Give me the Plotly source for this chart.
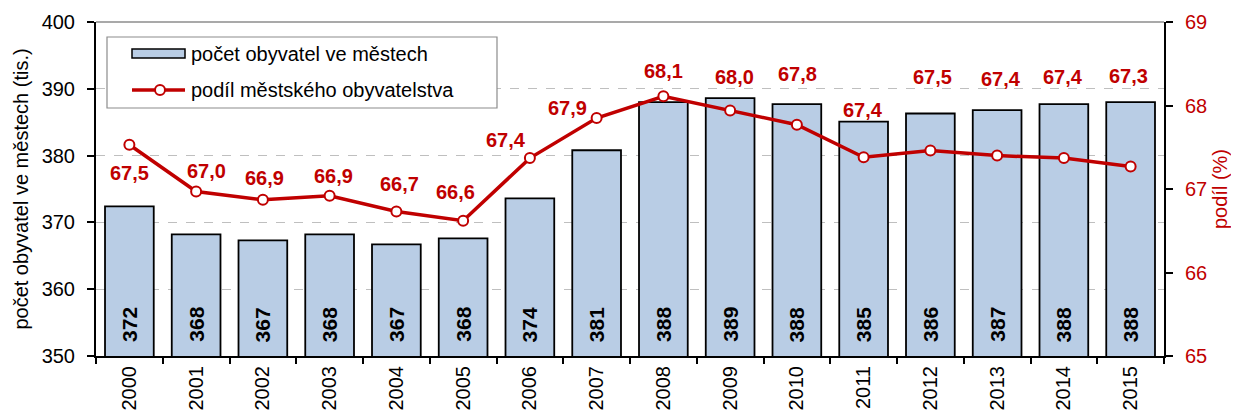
import plotly.graph_objects as go

years = ["2000", "2001", "2002", "2003", "2004", "2005", "2006", "2007",
         "2008", "2009", "2010", "2011", "2012", "2013", "2014", "2015"]
population = [372.4, 368.2, 367.3, 368.2, 366.7, 367.6, 373.6, 380.8,
              388.0, 388.6, 387.7, 385.1, 386.3, 386.8, 387.7, 388.0]
pop_labels = ["372", "368", "367", "368", "367", "368", "374", "381",
              "388", "389", "388", "385", "386", "387", "388", "388"]
share = [67.53, 66.97, 66.87, 66.92, 66.73, 66.62, 67.37, 67.85,
         68.11, 67.94, 67.77, 67.38, 67.46, 67.40, 67.37, 67.27]
share_labels = ["67,5", "67,0", "66,9", "66,9", "66,7", "66,6", "67,4", "67,9",
                "68,1", "68,0", "67,8", "67,4", "67,5", "67,4", "67,4", "67,3"]
bar_name = "počet obyvatel ve městech"
line_name = "podíl městského obyvatelstva"

# label placement offsets (pixels) relative to each line point
label_dy = [-28, 21, 22, 20, 28, 29, 18, 10, 25, 34, 51, 47, 74, 77, 81, 90]
label_dx = [0, 10, 2, 4, 3, -8, -24, -29, 0, 4, 1, -1, 2, 4, -1, -2]

FONT = "Liberation Sans, Arial, sans-serif"
RED = "#C00000"
BLUE = "#B9CDE5"
Y1 = [350, 400]
Y2 = [65, 69]

OFF = 8  # page body margin
W, H = 1239 - OFF, 416 - OFF
ML, MT = 96 - OFF, 22 - OFF
MR, MB = W - (1164 - OFF), H - (356 - OFF)
PW, PH = W - ML - MR, H - MT - MB


def px(x):
    # window pixel x -> paper fraction
    return (x - OFF - ML) / PW


def py(y):
    # window pixel y -> paper fraction
    return (H - MB - (y - OFF)) / PH


fig = go.Figure()
fig.add_trace(go.Bar(
    x=years, y=population, name=bar_name,
    marker=dict(color=BLUE, line=dict(color="#000000", width=1.8)),
    yaxis="y", showlegend=False,
))
fig.add_trace(go.Scatter(
    x=years, y=share, name=line_name,
    mode="lines+markers",
    line=dict(color=RED, width=3.5),
    marker=dict(size=10, color="#FFFFFF", line=dict(color=RED, width=2)),
    yaxis="y2", showlegend=False,
))

# values inside bars
for i, t in enumerate(pop_labels):
    fig.add_annotation(x=i, y=Y1[0], xref="x", yref="y", text=t, showarrow=False,
                       textangle=-90, yanchor="bottom", xanchor="center", yshift=12,
                       font=dict(family=FONT, size=21, color="#000000", weight="bold"))

# share labels
for i, (v, t, dy, dx) in enumerate(zip(share, share_labels, label_dy, label_dx)):
    fig.add_annotation(x=i, y=v, xref="x", yref="y2", text=t, showarrow=False,
                       yshift=dy, xshift=dx,
                       font=dict(family=FONT, size=20, color=RED, weight="bold"))

# top border of plot area
fig.add_shape(type="line", xref="paper", yref="paper", x0=0, x1=1, y0=1, y1=1,
              line=dict(color="#8C8C8C", width=1.5))

# legend (drawn)
fig.add_shape(type="rect", xref="paper", yref="paper",
              x0=px(107), x1=px(497), y0=py(108), y1=py(37),
              fillcolor="white", line=dict(color="#8C8C8C", width=1.2), layer="above")
fig.add_shape(type="rect", xref="paper", yref="paper",
              x0=px(132), x1=px(185), y0=py(58), y1=py(49),
              fillcolor=BLUE, line=dict(color="#000000", width=1.5), layer="above")
fig.add_shape(type="line", xref="paper", yref="paper",
              x0=px(132), x1=px(185), y0=py(90), y1=py(90),
              line=dict(color=RED, width=3.5), layer="above")
fig.add_shape(type="circle", xref="paper", yref="paper",
              x0=px(155), x1=px(165), y0=py(95), y1=py(85),
              fillcolor="white", line=dict(color=RED, width=2), layer="above")
for name, yc in [(bar_name, 54), (line_name, 90)]:
    fig.add_annotation(x=px(189), y=py(yc), xref="paper", yref="paper", text=name,
                       showarrow=False, xanchor="left", yanchor="middle",
                       font=dict(family=FONT, size=20, color="#000000"))

fig.update_layout(
    width=W, height=H,
    margin=dict(l=ML, r=MR, t=MT, b=MB),
    paper_bgcolor="white", plot_bgcolor="white",
    font=dict(family=FONT, size=19, color="#000000"),
    bargap=0.27,
    showlegend=False,
    xaxis=dict(type="category", range=[-0.5, len(years) - 0.5], automargin=False,
               showline=True, linecolor="#000000", linewidth=2,
               ticks="outside", tickson="boundaries", ticklen=6, tickcolor="#000000",
               tickwidth=1.5, tickangle=-90, showgrid=False,
               tickfont=dict(family=FONT, size=20, color="#000000")),
    yaxis=dict(range=Y1, dtick=10, automargin=False, showline=True, linecolor="#000000",
               linewidth=2, ticks="outside", ticklen=7, tickcolor="#000000",
               tickwidth=1.5, showgrid=True, gridcolor="#BFBFBF", griddash="dash",
               gridwidth=1.2, zeroline=False, ticklabelstandoff=8,
               tickfont=dict(family=FONT, size=20, color="#000000"),
               title=dict(text="počet obyvatel ve městech (tis.)",
                          font=dict(family=FONT, size=20, color="#000000"),
                          standoff=8)),
    yaxis2=dict(range=Y2, dtick=1, overlaying="y", side="right", automargin=False,
                showline=True, linecolor="#000000", linewidth=2,
                ticks="outside", ticklen=7, tickcolor="#000000", tickwidth=1.5,
                showgrid=False, zeroline=False, ticklabelstandoff=8,
                tickfont=dict(family=FONT, size=20, color=RED),
                title=dict(text="podíl (%)", font=dict(family=FONT, size=20, color=RED),
                           standoff=7)),
)

fig.write_html("out.html")
